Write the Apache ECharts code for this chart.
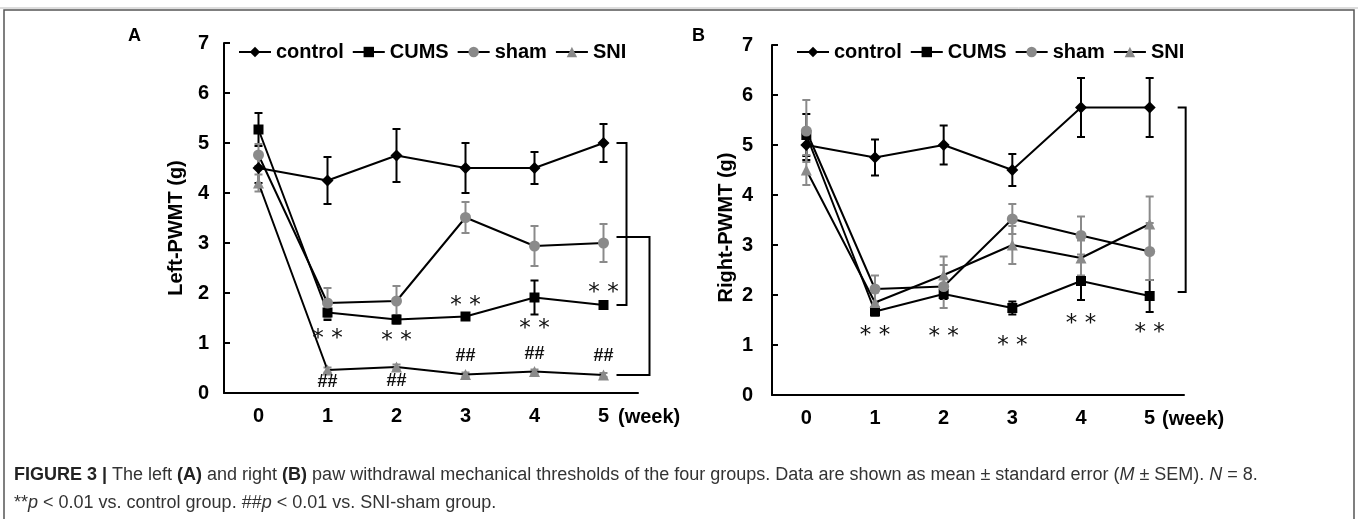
<!DOCTYPE html>
<html><head><meta charset="utf-8">
<script src="https://cdn.jsdelivr.net/npm/echarts@6/dist/echarts.min.js"></script>
<style>html,body{margin:0;padding:0;background:#fff}#c{width:1358px;height:519px}</style>
</head><body><div id="c"></div>
<script>
// ---------- data ----------
const weeks = ['0', '1', '2', '3', '4', '5'];
const seriesNames = ['control', 'CUMS', 'sham', 'SNI'];

// Panel A (left paw)
const aControl    = [4.5, 4.25, 4.75, 4.5, 4.5, 5.0];
const aControlSem = [0.3, 0.47, 0.53, 0.5, 0.32, 0.38];
const aCums       = [5.27, 1.61, 1.47, 1.53, 1.91, 1.76];
const aCumsSem    = [0.33, 0.15, 0.08, 0.07, 0.34, 0.08];
const aSham       = [4.76, 1.8, 1.84, 3.51, 2.94, 3.0];
const aShamSem    = [0.22, 0.3, 0.3, 0.31, 0.4, 0.38];
const aSni        = [4.2, 0.46, 0.52, 0.37, 0.43, 0.36];
const aSniSem     = [0.17, 0.05, 0.05, 0.04, 0.04, 0.04];
const aStarWeeks  = [1, 2, 3, 4, 5];
const aStarLevel  = [1.2, 1.16, 1.86, 1.4, 2.12];
const aHashWeeks  = [1, 2, 3, 4, 5];
const aHashLevel  = [0.21, 0.23, 0.73, 0.78, 0.73];

// Panel B (right paw)
const bControl    = [5.0, 4.75, 5.0, 4.5, 5.75, 5.75];
const bControlSem = [0.3, 0.36, 0.39, 0.32, 0.59, 0.59];
const bCums       = [5.2, 1.67, 2.02, 1.74, 2.28, 1.98];
const bCumsSem    = [0.42, 0.08, 0.1, 0.13, 0.38, 0.32];
const bSham       = [5.28, 2.12, 2.17, 3.52, 3.19, 2.87];
const bShamSem    = [0.62, 0.27, 0.43, 0.3, 0.38, 0.57];
const bSni        = [4.5, 1.85, 2.4, 3.0, 2.74, 3.42];
const bSniSem     = [0.3, 0.2, 0.37, 0.38, 0.35, 0.55];
const bStarWeeks  = [1, 2, 3, 4, 5];
const bStarLevel  = [1.3, 1.27, 1.09, 1.53, 1.35];

const yMin = 0, yMax = 7, yStep = 1;

// ---------- styles ----------
const FONT = 'Liberation Sans, Arial, sans-serif';
const BLACK = '#000';
const GREY = '#8a8a8a';
const groupStyle = {
  control: {symbol: 'diamond', size: 12, color: BLACK, err: BLACK},
  CUMS:    {symbol: 'rect',    size: 10, color: BLACK, err: BLACK},
  sham:    {symbol: 'circle',  size: 11, color: GREY,  err: GREY},
  SNI:     {symbol: 'triangle',size: 11, color: GREY,  err: GREY}
};

function errorBarSeries(name, gi, vals, sem) {
  const st = groupStyle[name];
  return {
    type: 'custom', xAxisIndex: gi, yAxisIndex: gi, z: 1, silent: true,
    data: vals.map((v, i) => [i, v, sem[i]]),
    renderItem: function (params, api) {
      const x = api.value(0), y = api.value(1), e = api.value(2);
      const hi = api.coord([x, y + e]), lo = api.coord([x, y - e]);
      const w = 4;
      const ls = {stroke: st.err, lineWidth: 2};
      return {type: 'group', children: [
        {type: 'line', shape: {x1: hi[0], y1: hi[1], x2: lo[0], y2: lo[1]}, style: ls},
        {type: 'line', shape: {x1: hi[0] - w, y1: hi[1], x2: hi[0] + w, y2: hi[1]}, style: ls},
        {type: 'line', shape: {x1: lo[0] - w, y1: lo[1], x2: lo[0] + w, y2: lo[1]}, style: ls}
      ]};
    }
  };
}

function lineSeries(name, gi, vals) {
  const st = groupStyle[name];
  return {
    type: 'line', name: name, xAxisIndex: gi, yAxisIndex: gi, z: 3,
    data: vals, symbol: st.symbol, symbolSize: st.size,
    itemStyle: {color: st.color, borderWidth: 0},
    lineStyle: {color: BLACK, width: 2},
    emphasis: {disabled: true}
  };
}

function textMarks(gi, xs, ys, label, font, dy) {
  return {
    type: 'custom', xAxisIndex: gi, yAxisIndex: gi, z: 4, silent: true,
    data: xs.map((x, i) => [x, ys[i]]),
    renderItem: function (params, api) {
      const p = api.coord([api.value(0), api.value(1)]);
      return {type: 'text', style: {text: label, x: p[0], y: p[1] + dy, align: 'center',
        verticalAlign: 'middle', font: font, fill: '#111'}};
    }
  };
}

function bracketSeries(gi, items, specs) {
  return {
    type: 'custom', xAxisIndex: gi, yAxisIndex: gi, z: 2, silent: true,
    data: items,
    renderItem: function (params, api) {
      const s = specs[params.dataIndex];
      const t = api.coord([api.value(0), api.value(1)]);
      const b = api.coord([api.value(0), api.value(2)]);
      const xa = t[0] + s.x0, xb = t[0] + s.x1;
      return {type: 'polyline', shape: {points: [[xa, t[1]], [xb, t[1]], [xb, b[1]], [xa, b[1]]]},
        style: {fill: 'none', stroke: BLACK, lineWidth: 2}};
    }
  };
}

const axisText = {color: BLACK, fontFamily: FONT, fontWeight: 'bold', fontSize: 20};

function xAxisFor(gi, gap) {
  return {
    type: 'category', gridIndex: gi, data: weeks, boundaryGap: true,
    axisLine: {lineStyle: {color: BLACK, width: 2}},
    axisTick: {inside: true, alignWithLabel: true, length: 4, lineStyle: {color: BLACK, width: 2}},
    axisLabel: Object.assign({margin: 13}, axisText),
    name: '(week)', nameLocation: 'end', nameGap: gap,
    nameTextStyle: Object.assign({verticalAlign: 'top', padding: [14, 0, 0, 0]}, axisText)
  };
}
function yAxisFor(gi, name, gap, margin, shiftPad) {
  return {
    type: 'value', gridIndex: gi, min: yMin, max: yMax, interval: yStep,
    splitLine: {show: false},
    axisLine: {show: true, lineStyle: {color: BLACK, width: 2}},
    axisTick: {show: true, inside: true, length: 6, lineStyle: {color: BLACK, width: 2}},
    axisLabel: Object.assign({margin: margin}, axisText),
    name: name, nameLocation: 'middle', nameGap: gap,
    nameTextStyle: Object.assign({padding: [0, shiftPad, 0, 0]}, axisText)
  };
}

function legendFor(left) {
  return {
    left: left, top: 42, padding: 0, itemGap: 8, itemWidth: 32, itemHeight: 13,
    data: seriesNames, selectedMode: false,
    textStyle: {color: BLACK, fontFamily: FONT, fontWeight: 'bold', fontSize: 20}
  };
}

const series = [];
[[0, aControl, aControlSem, aCums, aCumsSem, aSham, aShamSem, aSni, aSniSem],
 [1, bControl, bControlSem, bCums, bCumsSem, bSham, bShamSem, bSni, bSniSem]].forEach(p => {
  const gi = p[0];
  series.push(lineSeries('control', gi, p[1]));
  series.push(lineSeries('CUMS', gi, p[3]));
  series.push(lineSeries('sham', gi, p[5]));
  series.push(lineSeries('SNI', gi, p[7]));
  series.push(errorBarSeries('control', gi, p[1], p[2]));
  series.push(errorBarSeries('CUMS', gi, p[3], p[4]));
  series.push(errorBarSeries('sham', gi, p[5], p[6]));
  series.push(errorBarSeries('SNI', gi, p[7], p[8]));
});
const starFont = '23px DejaVu Sans, sans-serif';
const hashFont = 'bold 18px ' + FONT;
series.push(textMarks(0, aStarWeeks, aStarLevel, '* *', starFont, 6));
series.push(textMarks(0, aHashWeeks, aHashLevel, '##', hashFont, 0));
series.push(textMarks(1, bStarWeeks, bStarLevel, '* *', starFont, 6));
series.push(bracketSeries(0,
  [[5, aControl[5], aCums[5]], [5, aSham[5] + 0.12, aSni[5]]],
  [{x0: 13, x1: 23}, {x0: 13, x1: 46}]));
series.push(bracketSeries(1,
  [[5, bControl[5], bCums[5] + 0.08]],
  [{x0: 28, x1: 36}]));

const capBase = {fontFamily: FONT, fontSize: 18, fontWeight: 'normal', color: '#333'};
const capRich = {
  b: Object.assign({}, capBase, {fontWeight: 'bold', color: '#222'}),
  i: Object.assign({}, capBase, {fontStyle: 'italic'})
};

const option = {
  animation: false,
  backgroundColor: '#fff',
  title: [
    {text: 'A', left: 128, top: 27, padding: 0, textStyle: {fontFamily: FONT, fontWeight: 'bold', fontSize: 18, color: BLACK}},
    {text: 'B', left: 692, top: 27, padding: 0, textStyle: {fontFamily: FONT, fontWeight: 'bold', fontSize: 18, color: BLACK}},
    {text: '{b|FIGURE 3 |} The left {b|(A)} and right {b|(B)} paw withdrawal mechanical thresholds of the four groups. Data are shown as mean ± standard error ({i|M} ± SEM). {i|N} = 8.',
     left: 14, top: 466, padding: 0, textStyle: Object.assign({rich: capRich}, capBase)},
    {text: '**{i|p} < 0.01 vs. control group. ##{i|p} < 0.01 vs. SNI-sham group.',
     left: 14, top: 494, padding: 0, textStyle: Object.assign({rich: capRich}, capBase)}
  ],
  legend: [legendFor(238), legendFor(796)],
  grid: [
    {left: 224, right: 720, top: 43, bottom: 126},
    {left: 772, right: 174, top: 45, bottom: 124}
  ],
  xAxis: [xAxisFor(0, -20), xAxisFor(1, -22)],
  yAxis: [yAxisFor(0, 'Left-PWMT (g)', 38, 15, 20), yAxisFor(1, 'Right-PWMT (g)', 36, 19, 15)],
  graphic: [
    {type: 'line', shape: {x1: 0, y1: 8, x2: 1358, y2: 8}, style: {stroke: '#bbb', lineWidth: 1}},
    {type: 'rect', shape: {x: 4, y: 10, width: 1350, height: 530}, style: {fill: 'none', stroke: '#555', lineWidth: 1.5}}
  ],
  series: series
};
echarts.init(document.getElementById('c')).setOption(option);
</script></body></html>
